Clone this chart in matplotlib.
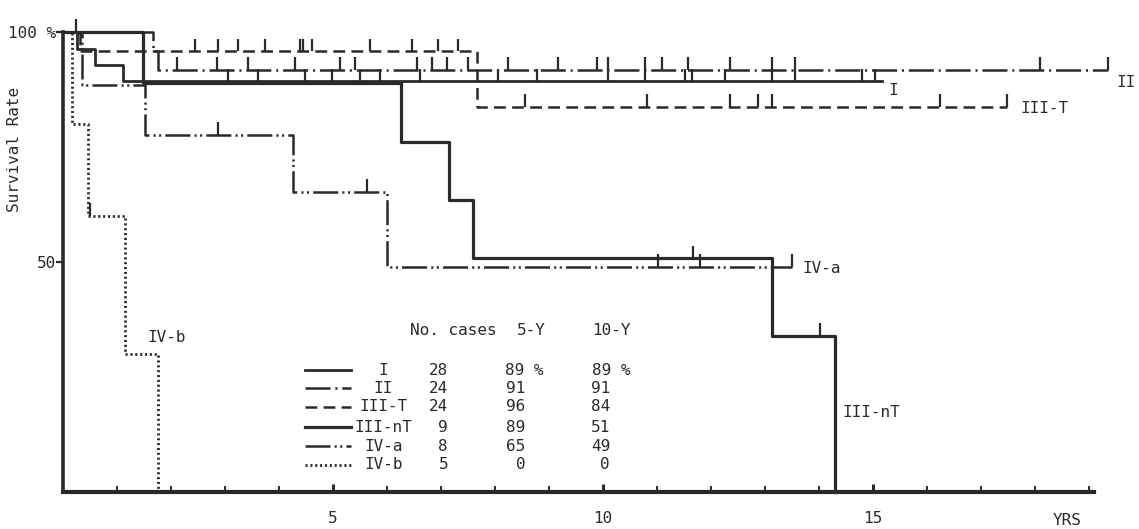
import matplotlib
matplotlib.use('Agg')
import matplotlib.pyplot as plt
import numpy as np

plt.rcParams['font.family'] = ['DejaVu Sans Mono', 'DejaVu Sans']
plt.rcParams['lines.scale_dashes'] = False

INK = '#2a2a2a'

# survival curves (years, % survival), step after each time
stages = ['I', 'II', 'III-T', 'III-nT', 'IV-a', 'IV-b']

t_I = [0, 0.26, 0.59, 1.11]
s_I = [100, 96.4, 92.9, 89.3]
end_I = 15.17

t_II = [0, 1.67, 1.76]
s_II = [100, 95.8, 91.7]
end_II = 19.35

t_IIIT = [0, 0.31, 7.67]
s_IIIT = [100, 95.8, 83.8]
end_IIIT = 17.48

t_IIInT = [0, 1.48, 6.26, 7.15, 7.6, 13.13, 14.30]
s_IIInT = [100, 88.9, 76.2, 63.5, 50.8, 33.9, 0]
end_IIInT = 14.30

t_IVa = [0, 0.35, 1.52, 4.26, 6.0]
s_IVa = [100, 88.5, 77.6, 65.2, 49.0]
end_IVa = 13.5

t_IVb = [0, 0.17, 0.46, 1.15, 1.76]
s_IVb = [100, 80, 60, 30, 0]
end_IVb = 1.76

# censored cases (years)
c_I = [3.06, 3.61, 4.48, 4.98, 5.87, 6.61, 8.06, 8.78, 10.09, 10.78, 11.52, 11.65,
       12.26, 13.13, 13.56, 14.80, 15.04]
c_II = [2.11, 2.85, 3.43, 4.30, 5.13, 5.41, 6.56, 6.83, 7.11, 7.50, 8.24, 9.17,
        9.89, 10.09, 10.78, 11.09, 11.57, 12.35, 13.13, 13.56, 18.09, 19.35]
c_IIIT = [0.24, 2.44, 2.87, 3.24, 3.74, 4.39, 4.44, 4.61, 5.69, 6.46, 6.94, 7.31,
          8.56, 10.81, 12.35, 12.87, 13.13, 16.24, 17.48]
c_IIInT = [5.5, 11.67, 14.02]
c_IVa = [2.87, 5.63, 11.02, 11.8, 13.5]
c_IVb = [0.5]

# table
n_cases = [28, 24, 24, 9, 8, 5]
y5 = [89, 91, 96, 89, 65, 0]
y10 = [89, 91, 84, 51, 49, 0]

curves = [(t_I, s_I, end_I, c_I), (t_II, s_II, end_II, c_II),
          (t_IIIT, s_IIIT, end_IIIT, c_IIIT), (t_IIInT, s_IIInT, end_IIInT, c_IIInT),
          (t_IVa, s_IVa, end_IVa, c_IVa), (t_IVb, s_IVb, end_IVb, c_IVb)]

styles = [dict(linestyle='-', lw=2.0),
          dict(dashes=(18, 3.5, 1.5, 3.5), lw=1.8),
          dict(dashes=(8.5, 4.5), lw=1.8),
          dict(linestyle='-', lw=2.3),
          dict(dashes=(18, 3, 1.5, 2.5, 1.5, 3), lw=1.8),
          dict(dashes=(1.5, 2.0), lw=2.0)]


def surv_at(t, s, x):
    i = np.searchsorted(t, x, side='right') - 1
    return s[i]


fig = plt.figure(figsize=(11.39, 5.29), dpi=100)
ax = fig.add_axes([63 / 1139, 37 / 529, 19.1 * 54 / 1139, 492 / 529])
ax.set_xlim(0, 19.1)
ax.set_ylim(0, 107)

for (t, s, end, cens), st in zip(curves, styles):
    xs = list(t) + [end]
    ys = list(s) + [s[-1]]
    ax.step(xs, ys, where='post', color=INK, clip_on=False, **st)
    cy = [surv_at(t, s, c) for c in cens]
    ax.vlines(cens, cy, np.array(cy) + 2.8, color=INK, lw=1.6, clip_on=False)

# curve labels
lab_kw = dict(fontsize=11.5, color=INK, va='center', ha='left')
ax.text(19.50, 89.1, 'II', **lab_kw)
ax.text(17.72, 83.3, 'III-T', **lab_kw)
ax.text(15.28, 87.4, 'I', **lab_kw)
ax.text(13.69, 48.7, 'IV-a', **lab_kw)
ax.text(14.44, 17.2, 'III-nT', **lab_kw)
ax.text(1.57, 33.7, 'IV-b', **lab_kw)

# table of cases
row_y = [26.5, 22.6, 18.5, 14.1, 10.0, 5.9]
ax.text(6.43, 35.2, 'No. cases', fontsize=11.5, color=INK, va='center')
ax.text(8.41, 35.2, '5-Y', fontsize=11.5, color=INK, va='center')
ax.text(9.80, 35.2, '10-Y', fontsize=11.5, color=INK, va='center')
for i, name in enumerate(stages):
    yy = row_y[i]
    ax.plot([4.48, 5.33], [yy, yy], color=INK, **styles[i])
    ax.text(5.93, yy, name, fontsize=11.5, color=INK, va='center', ha='center')
    ax.text(7.13, yy, str(n_cases[i]), fontsize=11.5, color=INK, va='center', ha='right')
    if i == 0:
        ax.text(8.19, yy, '%d %%' % y5[i], fontsize=11.5, color=INK, va='center', ha='left')
        ax.text(9.80, yy, '%d %%' % y10[i], fontsize=11.5, color=INK, va='center', ha='left')
    else:
        ax.text(8.56, yy, str(y5[i]), fontsize=11.5, color=INK, va='center', ha='right')
        ax.text(10.13, yy, str(y10[i]), fontsize=11.5, color=INK, va='center', ha='right')

# axes
for side in ['top', 'right']:
    ax.spines[side].set_visible(False)
ax.spines['left'].set_bounds(0, 100)
ax.spines['left'].set_linewidth(2.6)
ax.spines['bottom'].set_linewidth(3)
ax.spines['left'].set_color(INK)
ax.spines['bottom'].set_color(INK)

ax.set_xticks([5, 10, 15])
ax.set_xticklabels(['5', '10', '15'])
ax.set_xticks([y for y in range(1, 20) if y % 5], minor=True)
ax.tick_params(axis='x', which='major', direction='in', length=6, width=2.2,
               pad=14, labelsize=11.5, colors=INK)
ax.tick_params(axis='x', which='minor', direction='in', length=4, width=1.4, colors=INK)
ax.set_yticks([50, 100])
ax.set_yticklabels(['50', '100 %'])
ax.tick_params(axis='y', direction='out', length=5, width=1.6, pad=0,
               labelsize=11.5, colors=INK)

ax.text(18.6, -6.1, 'YRS', fontsize=11.5, color=INK, ha='center', va='center', clip_on=False)
fig.text(15 / 1139, 1 - 149 / 529, 'Survival Rate', rotation=90, fontsize=11.5,
         color=INK, ha='center', va='center')

fig.savefig('out.png', dpi=100, facecolor='white')
